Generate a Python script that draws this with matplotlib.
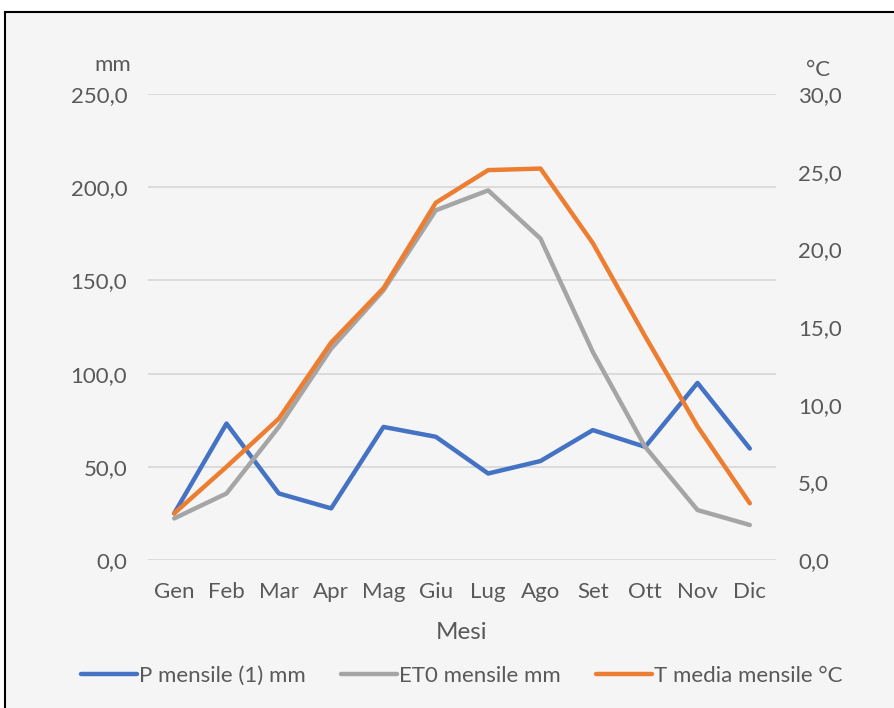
import matplotlib.pyplot as plt
from matplotlib.patches import Rectangle

plt.rcParams['font.family'] = ['Lato', 'DejaVu Sans']

mesi = ['Gen', 'Feb', 'Mar', 'Apr', 'Mag', 'Giu', 'Lug', 'Ago', 'Set', 'Ott', 'Nov', 'Dic']
p_mensile = [25.0, 73.2, 35.7, 27.7, 71.4, 66.1, 46.4, 53.1, 69.7, 60.7, 95.0, 59.8]
et0_mensile = [22.3, 35.7, 71.4, 113.4, 144.7, 187.6, 198.3, 172.4, 111.6, 60.7, 26.8, 18.8]
t_media = [3.0, 6.0, 9.1, 14.0, 17.5, 23.0, 25.1, 25.2, 20.4, 14.4, 8.6, 3.65]

left_ticks = [0, 50, 100, 150, 200, 250]
right_ticks = [0, 5, 10, 15, 20, 25, 30]

testo = '#595959'
griglia = '#d9d9d9'
fs = 16

fig = plt.figure(figsize=(8.95, 7.08), dpi=100, facecolor='white')
# cornice del grafico
fig.patches.append(Rectangle((5 / 895, -0.05), 1.0, 1 - 12 / 708 + 0.05,
                             transform=fig.transFigure, facecolor='#f5f5f5',
                             edgecolor='black', linewidth=1.5, zorder=-10))

ax = fig.add_axes([148 / 895, 1 - 560 / 708, (776 - 148) / 895, (560 - 94) / 708])
ax.set_facecolor('none')
ax2 = ax.twinx()

x = list(range(len(mesi)))
l1, = ax.plot(x, p_mensile, color='#4472C4', lw=3.2, solid_capstyle='round', label='P mensile (1) mm')
l2, = ax.plot(x, et0_mensile, color='#A5A5A5', lw=3.2, solid_capstyle='round', label='ET0 mensile mm')
l3, = ax2.plot(x, t_media, color='#ED7D31', lw=3.2, solid_capstyle='round', label='T media mensile °C')

ax.set_xlim(-0.5, 11.5)
ax.set_ylim(0, 250)
ax2.set_ylim(0, 30)
ax.set_yticks(left_ticks)
ax.set_yticklabels([f'{v:.1f}'.replace('.', ',') for v in left_ticks])
ax2.set_yticks(right_ticks)
ax2.set_yticklabels([f'{v:.1f}'.replace('.', ',') for v in right_ticks])
ax.set_xticks(x)
ax.set_xticklabels(mesi)

ax.grid(axis='y', color=griglia, lw=1.3)
ax.set_axisbelow(True)
for a in (ax, ax2):
    for s in a.spines.values():
        s.set_visible(False)
ax.tick_params(axis='y', length=0, pad=15, labelsize=fs, labelcolor=testo)
ax.tick_params(axis='x', length=0, pad=16, labelsize=fs, labelcolor=testo)
ax2.tick_params(axis='y', length=0, pad=16, labelsize=fs, labelcolor=testo)

ax.set_xlabel('Mesi', fontsize=17.5, color=testo, labelpad=14)
fig.text(113 / 895, 1 - 65 / 708, 'mm', fontsize=fs, color=testo, ha='center', va='center')
fig.text(818 / 895, 1 - 70 / 708, '°C', fontsize=fs, color=testo, ha='center', va='center')

fig.legend(handles=[l1, l2, l3], loc='center', bbox_to_anchor=(462 / 895, 1 - 676 / 708),
           ncol=3, frameon=False, fontsize=fs, labelcolor=testo, handlelength=2.5,
           handletextpad=0.1, columnspacing=1.6)

fig.savefig('out.png', dpi=100, facecolor='white')
